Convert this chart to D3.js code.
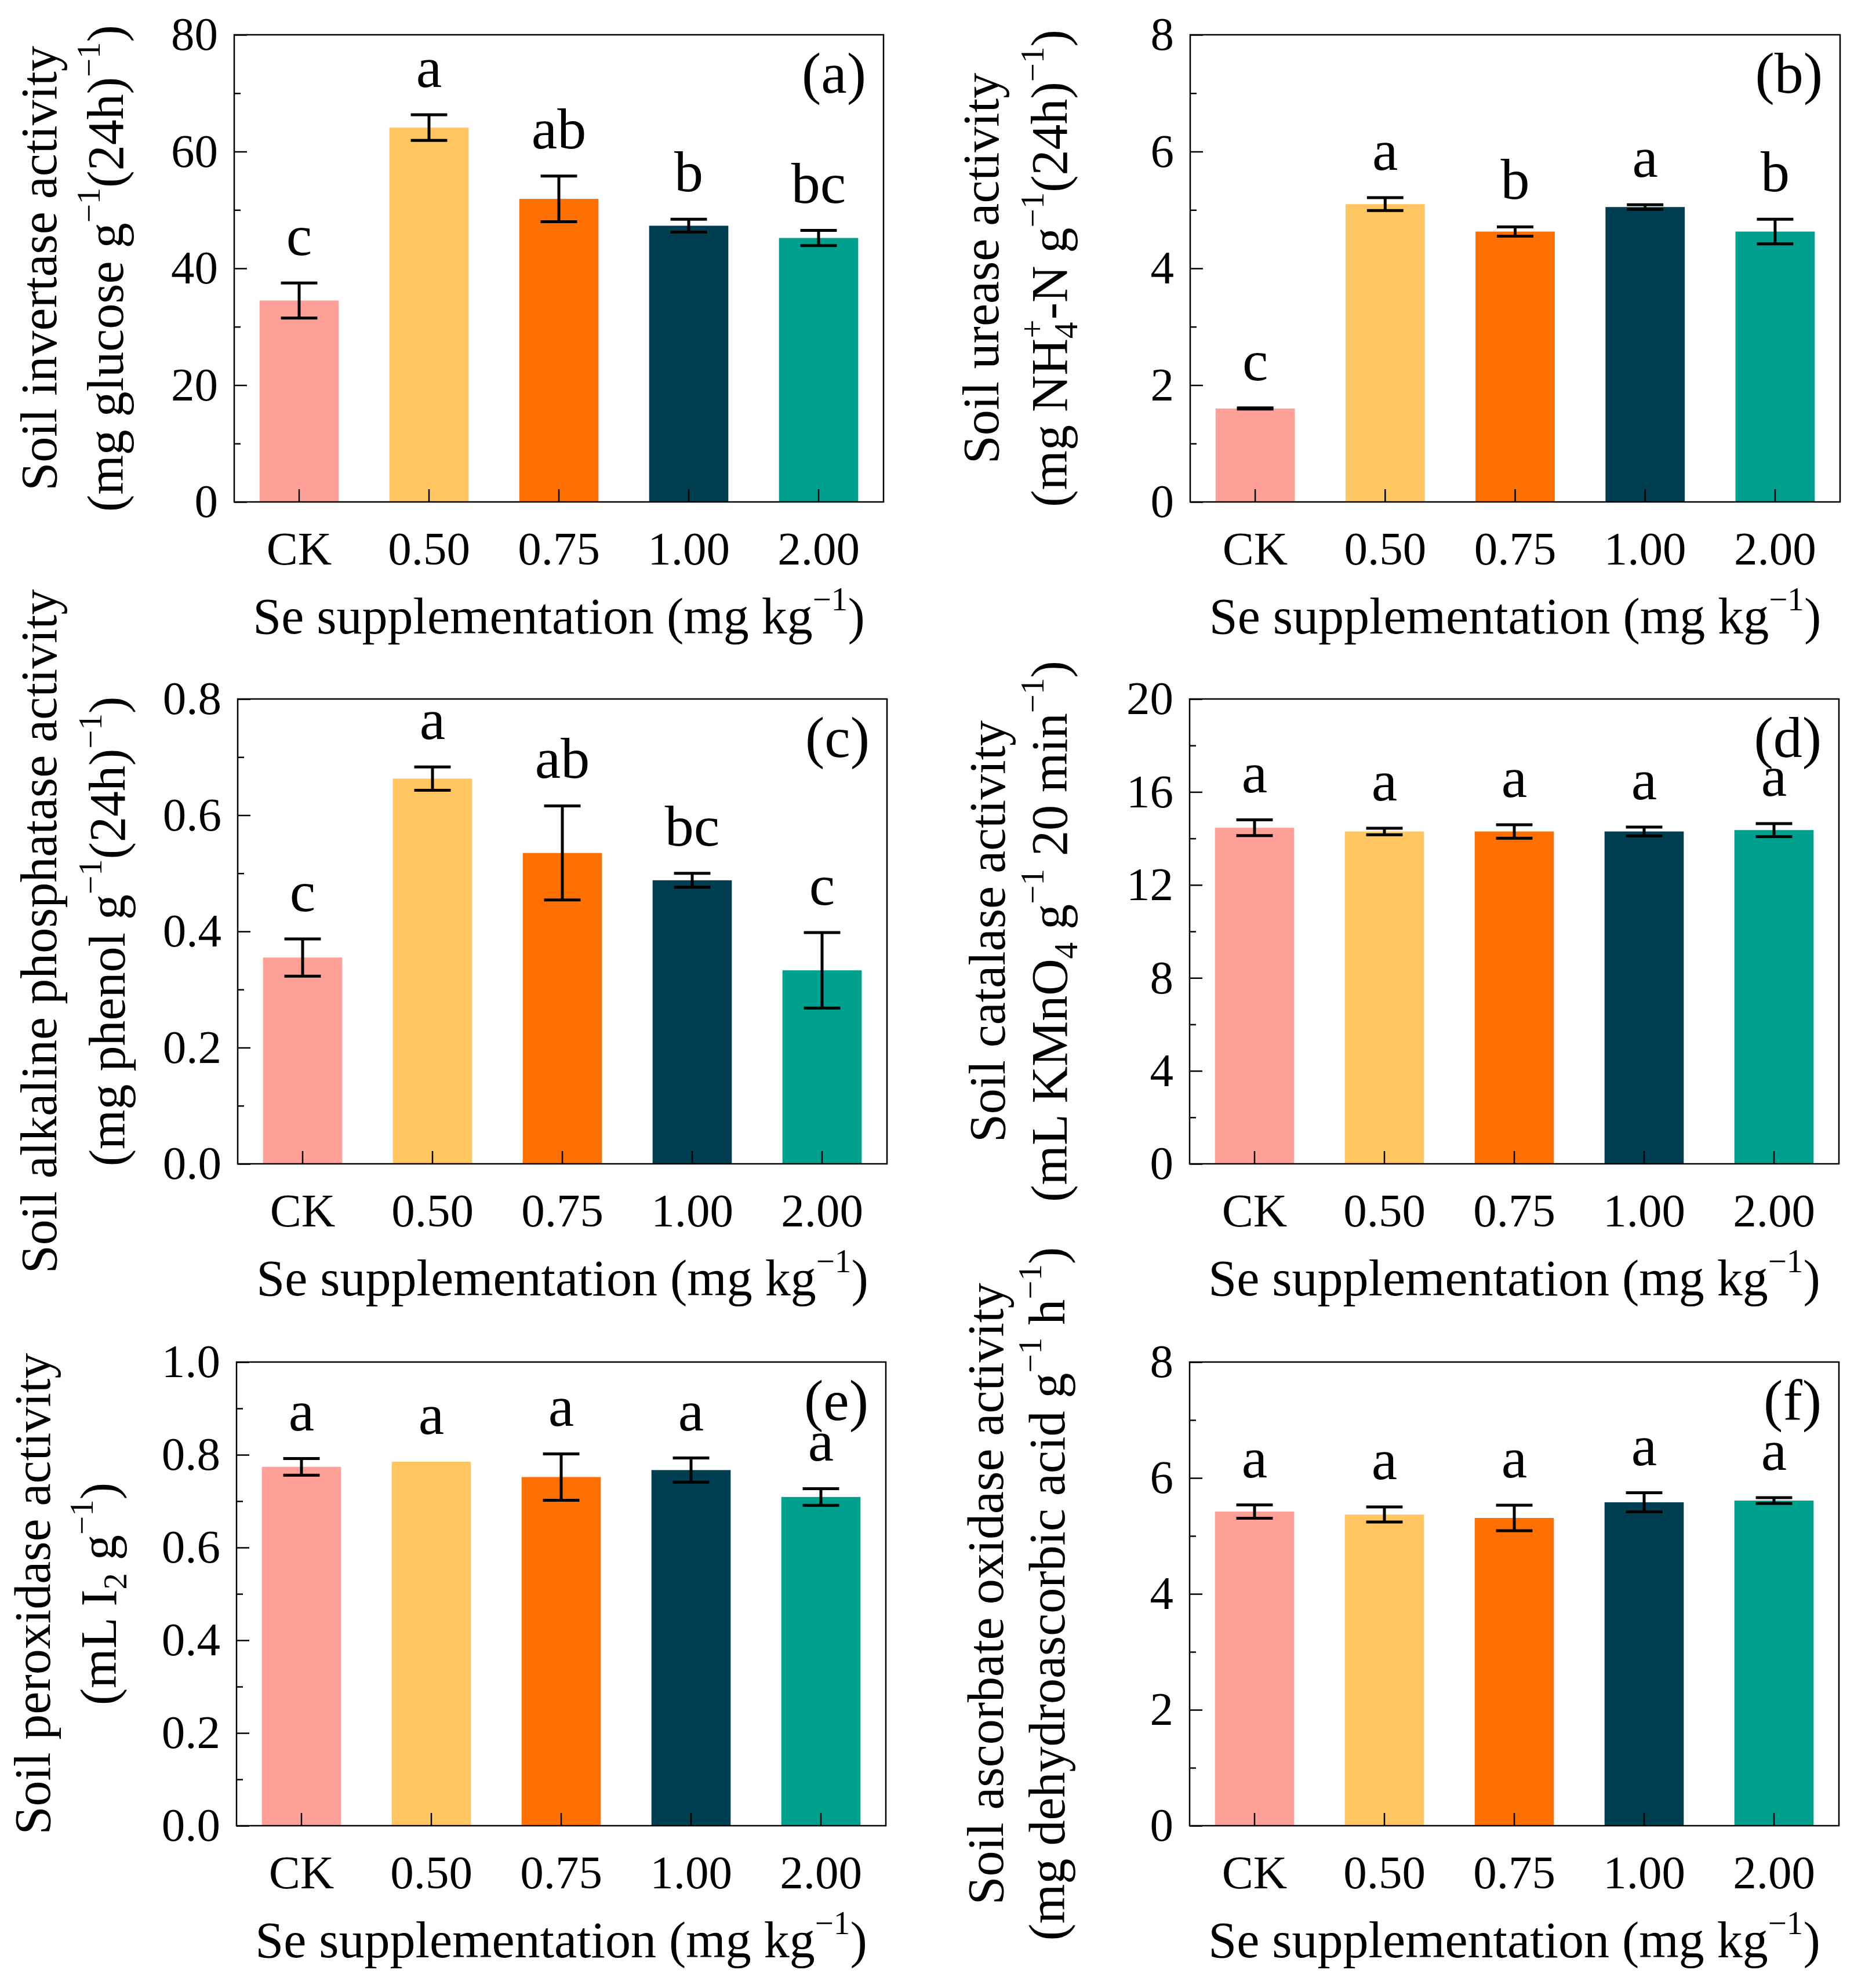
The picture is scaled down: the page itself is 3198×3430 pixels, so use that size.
<!DOCTYPE html>
<html>
<head>
<meta charset="utf-8">
<script src="https://cdn.jsdelivr.net/npm/d3@7"></script>
<style>
  html, body { margin: 0; padding: 0; background: #fff; }
  svg { display: block; }
</style>
</head>
<body>
<script>
// ---------------- DATA ----------------
const categories = ["CK", "0.50", "0.75", "1.00", "2.00"];
const barColors = ["#FFA198", "#FFC662", "#FF7000", "#003F51", "#00A08F"];

const invertaseMean = [34.5, 64.1, 51.9, 47.3, 45.2];
const invertaseErr  = [3.0, 2.2, 3.9, 1.1, 1.3];
const invertaseLetters = ["c", "a", "ab", "b", "bc"];
const invertaseTicks = [0, 20, 40, 60, 80];
const invertaseMinor = [10, 30, 50, 70];

const ureaseMean = [1.60, 5.10, 4.63, 5.05, 4.63];
const ureaseErr  = [0.01, 0.11, 0.08, 0.04, 0.21];
const ureaseLetters = ["c", "a", "b", "a", "b"];
const ureaseTicks = [0, 2, 4, 6, 8];
const ureaseMinor = [1, 3, 5, 7];

const phosphataseMean = [0.355, 0.663, 0.535, 0.488, 0.333];
const phosphataseErr  = [0.032, 0.020, 0.081, 0.012, 0.065];
const phosphataseLetters = ["c", "a", "ab", "bc", "c"];
const phosphataseTicks = [0.0, 0.2, 0.4, 0.6, 0.8];
const phosphataseMinor = [0.1, 0.3, 0.5, 0.7];

const catalaseMean = [14.46, 14.30, 14.30, 14.30, 14.36];
const catalaseErr  = [0.34, 0.14, 0.29, 0.19, 0.28];
const catalaseLetters = ["a", "a", "a", "a", "a"];
const catalaseTicks = [0, 4, 8, 12, 16, 20];
const catalaseMinor = [2, 6, 10, 14, 18];

const peroxidaseMean = [0.774, 0.785, 0.752, 0.767, 0.709];
const peroxidaseErr  = [0.018, 0.0, 0.050, 0.026, 0.018];
const peroxidaseLetters = ["a", "a", "a", "a", "a"];
const peroxidaseTicks = [0.0, 0.2, 0.4, 0.6, 0.8, 1.0];
const peroxidaseMinor = [0.1, 0.3, 0.5, 0.7, 0.9];

const ascorbateMean = [5.42, 5.37, 5.31, 5.58, 5.61];
const ascorbateErr  = [0.115, 0.13, 0.22, 0.165, 0.05];
const ascorbateLetters = ["a", "a", "a", "a", "a"];
const ascorbateTicks = [0, 2, 4, 6, 8];
const ascorbateMinor = [1, 3, 5, 7];

// Axis title text pieces
const xTitleMain = "Se supplementation (mg kg";
const xTitleSup = "\u22121";

// ---------------- LAYOUT ----------------
const W = 3198, H = 3430;
const FONT = "'Liberation Serif', 'Times New Roman', serif";

const svg = d3.select("body").append("svg")
  .attr("width", W).attr("height", H)
  .attr("viewBox", `0 0 ${W} ${H}`);
svg.append("rect").attr("width", W).attr("height", H).attr("fill", "#fff");

const panels = [
  { id: "(a)", mean: invertaseMean, err: invertaseErr, letters: invertaseLetters,
    ticks: invertaseTicks, minor: invertaseMinor, fmt: d3.format("d"),
    left: 404, right: 1524, top: 60, bottom: 866, t1x: 97, t2x: 212,
    line1: [{t: "Soil invertase activity"}],
    line2: [{t: "(mg glucose g"}, {t: "\u22121", s: "sup"}, {t: "(24h)"}, {t: "\u22121", s: "sup"}, {t: ")"}] },
  { id: "(b)", mean: ureaseMean, err: ureaseErr, letters: ureaseLetters,
    ticks: ureaseTicks, minor: ureaseMinor, fmt: d3.format("d"),
    left: 2053, right: 3174, top: 60, bottom: 866, t1x: 1722, t2x: 1840,
    line1: [{t: "Soil urease activity"}],
    line2: [{t: "(mg NH"}, {t: "4", s: "sub"}, {t: "+", s: "sup", dx: -28}, {t: "-N g"}, {t: "\u22121", s: "sup"}, {t: "(24h)"}, {t: "\u22121", s: "sup"}, {t: ")"}] },
  { id: "(c)", mean: phosphataseMean, err: phosphataseErr, letters: phosphataseLetters,
    ticks: phosphataseTicks, minor: phosphataseMinor, fmt: d3.format(".1f"),
    left: 410, right: 1530, top: 1206, bottom: 2008, t1x: 97, t2x: 215,
    line1: [{t: "Soil alkaline phosphatase activity"}],
    line2: [{t: "(mg phenol g"}, {t: "\u22121", s: "sup"}, {t: "(24h)"}, {t: "\u22121", s: "sup"}, {t: ")"}] },
  { id: "(d)", mean: catalaseMean, err: catalaseErr, letters: catalaseLetters,
    ticks: catalaseTicks, minor: catalaseMinor, fmt: d3.format("d"),
    left: 2052, right: 3172, top: 1206, bottom: 2008, t1x: 1733, t2x: 1840,
    line1: [{t: "Soil catalase activity"}],
    line2: [{t: "(mL KMnO"}, {t: "4", s: "sub"}, {t: " g"}, {t: "\u22121", s: "sup"}, {t: " 20 min"}, {t: "\u22121", s: "sup"}, {t: ")"}] },
  { id: "(e)", mean: peroxidaseMean, err: peroxidaseErr, letters: peroxidaseLetters,
    ticks: peroxidaseTicks, minor: peroxidaseMinor, fmt: d3.format(".1f"),
    left: 408, right: 1528, top: 2350, bottom: 3150, t1x: 86, t2x: 200,
    line1: [{t: "Soil peroxidase activity"}],
    line2: [{t: "(mL I"}, {t: "2", s: "sub"}, {t: " g"}, {t: "\u22121", s: "sup"}, {t: ")"}] },
  { id: "(f)", mean: ascorbateMean, err: ascorbateErr, letters: ascorbateLetters,
    ticks: ascorbateTicks, minor: ascorbateMinor, fmt: d3.format("d"),
    left: 2052, right: 3172, top: 2350, bottom: 3150, t1x: 1730, t2x: 1836,
    line1: [{t: "Soil ascorbate oxidase activity"}],
    line2: [{t: "(mg dehydroascorbic acid g"}, {t: "\u22121", s: "sup"}, {t: " h"}, {t: "\u22121", s: "sup"}, {t: ")"}] }
];

const TITLE_SIZE = 88, SUP_SIZE = 57, TICK_SIZE = 81, LETTER_SIZE = 100;
const SUP_SHIFT = 40, SUB_SHIFT = 18;

function richText(sel, segs, size) {
  let shift = 0; // current baseline shift (positive = up)
  segs.forEach(seg => {
    let target = 0, fs = size;
    if (seg.s === "sup") { target = SUP_SHIFT; fs = SUP_SIZE; }
    if (seg.s === "sub") { target = -SUB_SHIFT; fs = SUP_SIZE; }
    const ts = sel.append("tspan").attr("font-size", fs).text(seg.t);
    const dy = -(target - shift);
    if (dy !== 0) ts.attr("dy", dy);
    if (seg.dx) ts.attr("dx", seg.dx);
    shift = target;
  });
}

panels.forEach(p => {
  const g = svg.append("g");
  const y = d3.scaleLinear().domain([0, p.ticks[p.ticks.length - 1]]).range([p.bottom, p.top]);
  const x = d3.scaleBand().domain(categories).range([p.left, p.right])
    .paddingInner(0.39).paddingOuter(0.195);
  const bw = x.bandwidth();
  const rows = categories.map((c, i) => ({ c, m: p.mean[i], e: p.err[i], l: p.letters[i], col: barColors[i] }));

  // bars
  g.selectAll("rect.bar").data(rows).join("rect")
    .attr("class", "bar")
    .attr("x", d => x(d.c)).attr("width", bw)
    .attr("y", d => y(d.m)).attr("height", d => y(0) - y(d.m))
    .attr("fill", d => d.col);

  // error bars
  const eb = g.selectAll("g.err").data(rows.filter(d => d.e > 0)).join("g").attr("class", "err")
    .attr("stroke", "#000").attr("stroke-width", 5).attr("fill", "none");
  const cap = bw * 0.23;
  eb.append("line")
    .attr("x1", d => x(d.c) + bw / 2).attr("x2", d => x(d.c) + bw / 2)
    .attr("y1", d => y(d.m - d.e)).attr("y2", d => y(d.m + d.e));
  eb.append("line")
    .attr("x1", d => x(d.c) + bw / 2 - cap).attr("x2", d => x(d.c) + bw / 2 + cap)
    .attr("y1", d => y(d.m + d.e)).attr("y2", d => y(d.m + d.e));
  eb.append("line")
    .attr("x1", d => x(d.c) + bw / 2 - cap).attr("x2", d => x(d.c) + bw / 2 + cap)
    .attr("y1", d => y(d.m - d.e)).attr("y2", d => y(d.m - d.e));

  // significance letters
  g.selectAll("text.letter").data(rows).join("text")
    .attr("class", "letter")
    .attr("x", d => x(d.c) + bw / 2)
    .attr("y", d => y(d.m + d.e) - 48)
    .attr("text-anchor", "middle")
    .attr("font-family", FONT).attr("font-size", LETTER_SIZE)
    .text(d => d.l);

  // y axis (major)
  const ya = g.append("g").attr("transform", `translate(${p.left},0)`)
    .call(d3.axisLeft(y).tickValues(p.ticks).tickFormat(p.fmt)
      .tickSizeInner(-22).tickSizeOuter(0).tickPadding(28));
  ya.attr("font-family", FONT).attr("font-size", TICK_SIZE);
  ya.selectAll("line").attr("stroke-width", 2.5);
  ya.select(".domain").remove();
  // y minor
  const ym = g.append("g").attr("transform", `translate(${p.left},0)`)
    .call(d3.axisLeft(y).tickValues(p.minor).tickFormat("").tickSizeInner(-11).tickSizeOuter(0));
  ym.selectAll("line").attr("stroke-width", 2.5);
  ym.select(".domain").remove();

  // x axis
  const xa = g.append("g").attr("transform", `translate(0,${p.bottom})`)
    .call(d3.axisBottom(x).tickSizeInner(-22).tickSizeOuter(0).tickPadding(50));
  xa.attr("font-family", FONT).attr("font-size", TICK_SIZE);
  xa.selectAll("line").attr("stroke-width", 2.5);
  xa.select(".domain").remove();

  // frame
  g.append("rect").attr("x", p.left).attr("y", p.top)
    .attr("width", p.right - p.left).attr("height", p.bottom - p.top)
    .attr("fill", "none").attr("stroke", "#000").attr("stroke-width", 2.5);

  // panel id
  g.append("text").attr("x", p.right - 30).attr("y", p.top + 100)
    .attr("text-anchor", "end").attr("font-family", FONT).attr("font-size", LETTER_SIZE)
    .text(p.id);

  // x title
  const xt = g.append("text").attr("x", (p.left + p.right) / 2).attr("y", p.bottom + 227)
    .attr("text-anchor", "middle").attr("font-family", FONT).attr("font-size", TITLE_SIZE);
  richText(xt, [{t: xTitleMain}, {t: xTitleSup, s: "sup"}, {t: ")"}], TITLE_SIZE);

  // y titles
  const cy = (p.top + p.bottom) / 2;
  const yt1 = g.append("text").attr("transform", `translate(${p.t1x},${cy}) rotate(-90)`)
    .attr("text-anchor", "middle").attr("font-family", FONT).attr("font-size", TITLE_SIZE);
  richText(yt1, p.line1, TITLE_SIZE);
  const yt2 = g.append("text").attr("transform", `translate(${p.t2x},${cy}) rotate(-90)`)
    .attr("text-anchor", "middle").attr("font-family", FONT).attr("font-size", TITLE_SIZE);
  richText(yt2, p.line2, TITLE_SIZE);
});
</script>
</body>
</html>
